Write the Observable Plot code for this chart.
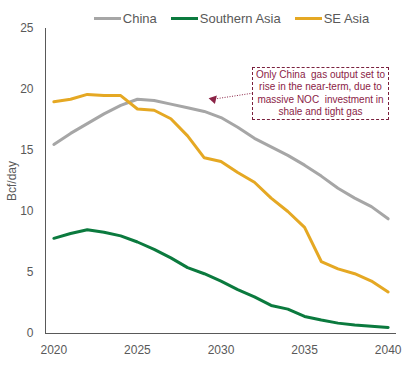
<!DOCTYPE html>
<html><head><meta charset="utf-8">
<script src="https://cdn.jsdelivr.net/npm/d3@7"></script>
<script src="https://cdn.jsdelivr.net/npm/@observablehq/plot@0.6"></script>
<style>
body{margin:0;background:#fff;font-family:Arial,"Liberation Sans",sans-serif;}
#wrap{position:relative;width:409px;height:376px;}
#legend{position:absolute;top:11px;left:0;width:409px;display:flex;justify-content:center;gap:14px;font-size:13px;color:#595959;padding-left:54px;box-sizing:border-box;}
#legend span.item{display:flex;align-items:center;}
#legend span.sw{display:inline-block;width:27px;height:3px;margin-right:2px;}
#note{position:absolute;left:252px;top:67px;width:133px;height:49px;border:1px dashed #7a1f3d;color:#8b2346;font-size:10px;line-height:12.3px;text-align:center;padding:1px 1px;}
</style></head>
<body><div id="wrap"><div id="legend"></div><div id="note">Only China&nbsp; gas output set to rise in the near-term, due to massive NOC&nbsp; investment in shale and tight gas</div></div>
<script>
const years = d3.range(2020, 2041);
const china = [15.5,16.4,17.2,18.0,18.7,19.2,19.1,18.8,18.5,18.2,17.7,16.9,16.0,15.3,14.6,13.8,12.9,11.9,11.1,10.4,9.4];
const southernAsia = [7.8,8.2,8.5,8.3,8.0,7.5,6.9,6.2,5.4,4.9,4.3,3.6,3.0,2.3,2.0,1.4,1.1,0.85,0.7,0.6,0.5];
const seAsia = [19.0,19.2,19.6,19.5,19.5,18.4,18.3,17.6,16.2,14.4,14.1,13.2,12.4,11.1,10.0,8.7,5.9,5.3,4.9,4.3,3.4];
const seriesNames = ["China","Southern Asia","SE Asia"];
const seriesColors = ["#a6a6a6","#0b7a3e","#e5a823"];
const yTicks = [0,5,10,15,20,25];
const xTicks = [2020,2025,2030,2035,2040];
const arrowData = [{x1:2031.9, y1:19.7, x2:2029.75, y2:19.25}];
const arrowTip = [{x:2029.55, y:19.2}];

const data = [];
[china, southernAsia, seAsia].forEach((arr, i) => arr.forEach((v, j) => data.push({year: years[j], value: v, series: seriesNames[i]})));

const lg = document.getElementById("legend");
seriesNames.forEach((n, i) => {
  const s = document.createElement("span"); s.className = "item";
  s.innerHTML = `<span class="sw" style="background:${seriesColors[i]}"></span>${n}`;
  lg.appendChild(s);
});

const chart = Plot.plot({
  width: 409, height: 376,
  marginTop: 28, marginBottom: 43, marginLeft: 45, marginRight: 13,
  style: {fontFamily: 'Arial, "Liberation Sans", sans-serif', fontSize: "12px", color: "#595959"},
  x: {domain: [2019.5, 2040.5], label: null},
  y: {domain: [0, 25]},
  color: {domain: seriesNames, range: seriesColors},
  marks: [
    Plot.axisX({ticks: xTicks, tickFormat: d => String(d), tickSize: 0, tickPadding: 12, fontSize: 12, label: null}),
    Plot.axisY({ticks: yTicks, tickSize: 0, tickPadding: 12, fontSize: 12, label: "Bcf/day", labelAnchor: "center", labelArrow: "none", labelOffset: 38}),
    Plot.ruleY([0], {stroke: "#595959", strokeWidth: 1}),
    Plot.ruleX([2019.5], {stroke: "#595959", strokeWidth: 1}),
    Plot.line(data, {x: "year", y: "value", z: "series", stroke: "series", strokeWidth: 3, strokeLinejoin: "round"}),
    Plot.link(arrowData, {x1: "x1", y1: "y1", x2: "x2", y2: "y2", stroke: "#8b2346", strokeWidth: 1, strokeDasharray: "1,1.5"}),
    Plot.dot(arrowTip, {x: "x", y: "y", symbol: "triangle", r: 3.2, fill: "#8b2346", stroke: "none", rotate: -77})
  ]
});
document.getElementById("wrap").prepend(chart);
chart.style.position = "absolute"; chart.style.left = "0"; chart.style.top = "0";
</script></body></html>
